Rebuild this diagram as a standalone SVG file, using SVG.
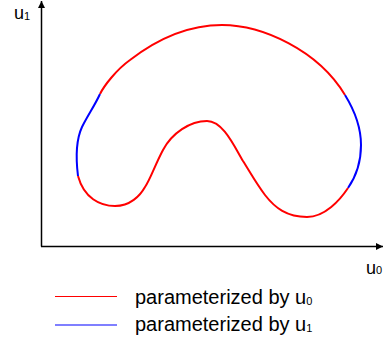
<svg xmlns="http://www.w3.org/2000/svg" width="387" height="344" viewBox="0 0 387 344">
<defs>
<marker id="ah" viewBox="0 0 10 10" refX="10" refY="5" markerWidth="7" markerHeight="7" markerUnits="userSpaceOnUse" orient="auto"><path d="M0,0 L10,5 L0,10 Z" fill="#000"/></marker>
</defs>
<style>
.ax{stroke:#000;stroke-width:1.5;fill:none}
.r{stroke:#ff0000;stroke-width:2;fill:none}
.b{stroke:#0000ff;stroke-width:2;fill:none}
.lr{stroke:#ff0000;stroke-width:1.2}
.lb{stroke:#0000ff;stroke-width:1.2}
text{font-family:"Liberation Sans",Arial,sans-serif;fill:#000}
.t{font-size:18px}
.lg{font-size:20px}
.s{font-size:11px}
</style>
<g id="axes">
<line class="ax" x1="41.5" y1="246.5" x2="41.5" y2="1" marker-end="url(#ah)"/>
<line class="ax" x1="41" y1="246.5" x2="383" y2="246.5" marker-end="url(#ah)"/>
</g>
<g id="label-u1"><text class="t" x="14" y="19">u<tspan class="s" dy="1">1</tspan></text></g>
<g id="label-u0"><text class="t" x="366" y="274">u<tspan class="s" dy="0">0</tspan></text></g>
<g id="curve">
<path class="r" d="M100,94 C104,86 116,70 130,60 C156,40 188,25 222,25 C262,25 318,50 345,95"/>
<path class="b" d="M345,95 C353,108 361,127 361,145 C361,160 357,175 348,188"/>
<path class="r" d="M348,188 C340,200 325,217 307,217 C287,217 275,208 265,195 C256,183 250,172 243,161 C234,146 223,121 207,121 C190,121 172,133 163,150 C155,165 150,180 145,187 C140,196 130,206 115,206 C100,206 84,198 78,176"/>
<path class="b" d="M78,176 C76,160 76,140 82,127 C88,115 95,105 100,94"/>
</g>
<g id="legend">
<line class="lr" x1="55" y1="296.5" x2="117" y2="296.5"/>
<line class="lb" x1="55" y1="325" x2="117" y2="325"/>
<text class="lg" x="135" y="303.5">parameterized by u<tspan class="s" dy="1">0</tspan></text>
<text class="lg" x="135" y="331">parameterized by u<tspan class="s" dy="1">1</tspan></text>
</g>
</svg>
